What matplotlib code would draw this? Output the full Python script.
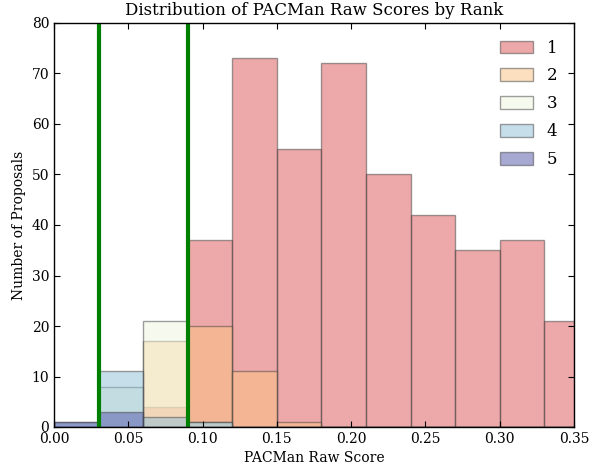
import matplotlib
matplotlib.use('Agg')
import matplotlib.pyplot as plt
import numpy as np

# bin edges of the histogram (width 0.03)
edges = np.arange(0, 0.361, 0.03)
bin_left = edges[:-1]

ranks = ['1', '2', '3', '4', '5']
counts_1 = [0, 0, 4, 37, 73, 55, 72, 50, 42, 35, 37, 21]
counts_2 = [0, 0, 17, 20, 11, 1, 0, 0, 0, 0, 0, 0]
counts_3 = [0, 8, 21, 1, 0, 0, 0, 0, 0, 0, 0, 0]
counts_4 = [1, 11, 2, 1, 0, 0, 0, 0, 0, 0, 0, 0]
counts_5 = [1, 3, 0, 0, 0, 0, 0, 0, 0, 0, 0, 0]
cut_lines = [0.03, 0.09]

colors = ['#dd5555', '#fbc181', '#eff7df', '#8fbfd7', '#5355a9']

plt.rcParams['font.family'] = ['DejaVu Serif']
plt.rcParams['xtick.direction'] = 'in'
plt.rcParams['ytick.direction'] = 'in'
plt.rcParams['xtick.top'] = True
plt.rcParams['ytick.right'] = True
plt.rcParams['xtick.major.size'] = 4
plt.rcParams['ytick.major.size'] = 4

fig = plt.figure(figsize=(6.02, 4.63), dpi=100)
ax = fig.add_axes([54/602, 1-427/463, 520/602, 404/463])

allc = [counts_1, counts_2, counts_3, counts_4, counts_5]
for lab, c, col in zip(ranks, allc, colors):
    ax.hist(bin_left, bins=edges, weights=c, color=col, alpha=0.5,
            edgecolor='0.25', linewidth=1, label=lab)

for x in cut_lines:
    ax.axvline(x, color='green', linewidth=3)

ax.set_xlim(0, 0.35)
ax.set_ylim(0, 80)
ax.set_xticks(np.arange(0, 0.351, 0.05))
ax.set_xticklabels(['%.2f' % t for t in np.arange(0, 0.351, 0.05)])
ax.set_yticks(range(0, 81, 10))
ax.tick_params(labelsize=10)
for s in ax.spines.values():
    s.set_linewidth(1)

ax.set_xlabel('PACMan Raw Score', fontsize=10)
ax.set_ylabel('Number of Proposals', fontsize=10)
ax.set_title('Distribution of PACMan Raw Scores by Rank', fontsize=12)
ax.legend(loc='upper right', frameon=False, fontsize=12, handlelength=2.0,
          handleheight=0.8, labelspacing=0.65, handletextpad=0.8,
          borderaxespad=0.6)

plt.savefig('out.png', dpi=100)
